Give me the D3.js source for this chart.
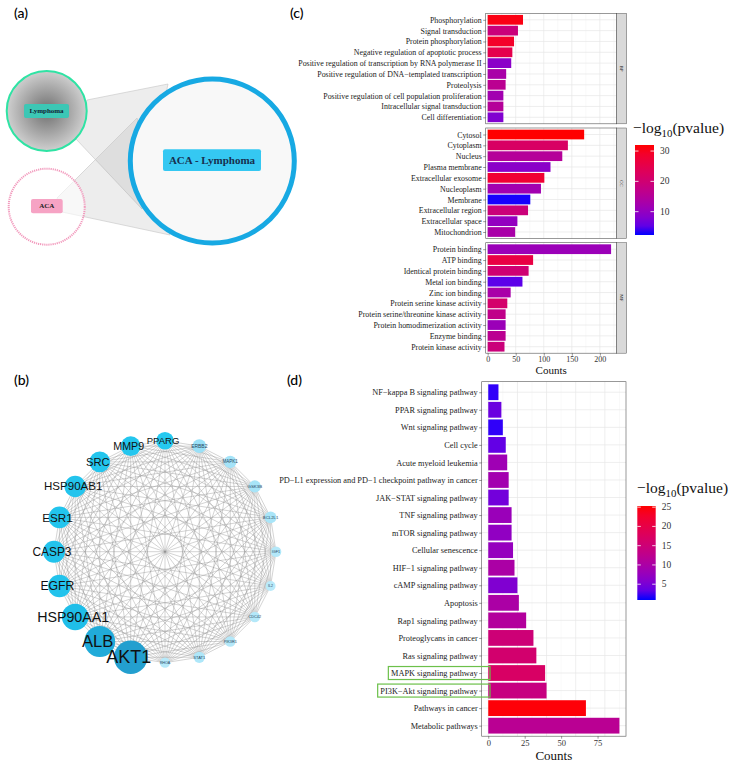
<!DOCTYPE html>
<html>
<head>
<meta charset="utf-8">
<script src="https://cdn.jsdelivr.net/npm/d3@7"></script>
<style>
body { margin: 0; background: #fff; }
text { font-family: "Liberation Serif", serif; }
</style>
</head>
<body>
<svg id="fig" width="731" height="762"></svg>
<script>
// ---- (a) sets ----
const SETS = ["Lymphoma", "ACA"];
const OVERLAP = "ACA - Lymphoma";

// ---- (b) PPI network, ring order clockwise from top ----
const GENES = ["PPARG", "ERBB2", "MAPK1", "GSK3B", "BCL2L1", "IGF1", "IL2", "CDC42", "PIK3R1", "STAT1",
    "RHOA", "AKT1", "ALB", "HSP90AA1", "EGFR", "CASP3", "ESR1", "HSP90AB1", "SRC", "MMP9"];
const GENE_SCORE = [50, 38, 34, 33, 32, 28, 26, 28, 28, 30,
    27, 100, 92, 78, 66, 64, 63, 62, 60, 57];

// ---- (c) GO enrichment ----
const BP_TERMS = ["Phosphorylation", "Signal transduction", "Protein phosphorylation",
    "Negative regulation of apoptotic process", "Positive regulation of transcription by RNA polymerase II",
    "Positive regulation of DNA\u2212templated transcription", "Proteolysis",
    "Positive regulation of cell population proliferation", "Intracellular signal transduction", "Cell differentiation"];
const BP_COUNT = [63, 54, 47, 44, 42, 33, 32, 28, 28, 28];
const BP_P = [31, 19, 29, 25, 9, 13, 16, 12, 15, 8];

const CC_TERMS = ["Cytosol", "Cytoplasm", "Nucleus", "Plasma membrane", "Extracellular exosome",
    "Nucleoplasm", "Membrane", "Extracellular region", "Extracellular space", "Mitochondrion"];
const CC_COUNT = [172, 143, 133, 112, 101, 95, 76, 72, 53, 49];
const CC_P = [32, 22, 15, 9, 28, 12, 2.5, 19, 10, 13];

const MF_TERMS = ["Protein binding", "ATP binding", "Identical protein binding", "Metal ion binding",
    "Zinc ion binding", "Protein serine kinase activity", "Protein serine/threonine kinase activity",
    "Protein homodimerization activity", "Enzyme binding", "Protein kinase activity"];
const MF_COUNT = [220, 81, 73, 62, 41, 35, 32, 32, 32, 30];
const MF_P = [11, 26, 20, 5, 13, 21, 17, 11, 16, 19];

const GO_TICKS = [0, 50, 100, 150, 200];
const GO_LEGEND_TICKS = [10, 20, 30];

// ---- (d) KEGG enrichment ----
const KEGG_TERMS = ["NF\u2212kappa B signaling pathway", "PPAR signaling pathway", "Wnt signaling pathway",
    "Cell cycle", "Acute myeloid leukemia", "PD\u2212L1 expression and PD\u22121 checkpoint pathway in cancer",
    "JAK\u2212STAT signaling pathway", "TNF signaling pathway", "mTOR signaling pathway", "Cellular senescence",
    "HIF\u22121 signaling pathway", "cAMP signaling pathway", "Apoptosis", "Rap1 signaling pathway",
    "Proteoglycans in cancer", "Ras signaling pathway", "MAPK signaling pathway",
    "PI3K\u2212Akt signaling pathway", "Pathways in cancer", "Metabolic pathways"];
const KEGG_COUNT = [7, 9, 10, 12, 13, 14, 14, 16, 16, 17, 18, 20, 21, 26, 31, 33, 39, 40, 67, 90];
const KEGG_P = [1.5, 4, 1.5, 3.5, 8.5, 9, 4.5, 8, 7, 7.5, 10, 5.5, 10, 11, 15, 16, 17, 14, 25, 12];
const KEGG_HIGHLIGHT = ["MAPK signaling pathway", "PI3K\u2212Akt signaling pathway"];

const KEGG_TICKS = [0, 25, 50, 75];
const KEGG_LEGEND_TICKS = [5, 10, 15, 20, 25];

const svg = d3.select("#fig");
const defs = svg.append("defs");

// panel tags
const tags = [["(a)", 14, 18], ["(b)", 14, 385], ["(c)", 290, 18], ["(d)", 287, 385]];
svg.selectAll(".tag").data(tags).join("text")
    .attr("x", d => d[1]).attr("y", d => d[2])
    .style("font-family", "Lato, sans-serif").style("font-size", "14px").style("font-weight", 500)
    .text(d => d[0]);

// =============== (a) ===============
function drawVenn(){
    const g = svg.append("g");
    const lym = { x: 46.7, y: 111, r: 40 };
    const aca = { x: 46.7, y: 206.7, r: 38 };
    const big = { x: 212.3, y: 161, r: 82 };

    const rg = defs.append("radialGradient").attr("id", "lymGrad");
    rg.append("stop").attr("offset", "0%").attr("stop-color", "#6f6f6f");
    rg.append("stop").attr("offset", "100%").attr("stop-color", "#cfcfcf");

    const bands = [
        [[87, 100], [168, 84], [142, 209], [76, 139]],
        [[57, 198], [137, 118], [170, 235], [62, 212]]
    ];
    g.selectAll(".band").data(bands).join("path")
        .attr("d", d => "M" + d.join("L") + "Z")
        .attr("fill", "#8c8c8c").attr("fill-opacity", 0.16)
        .attr("stroke", "#c4c4c4").attr("stroke-width", 0.6);

    g.append("circle").attr("cx", lym.x).attr("cy", lym.y).attr("r", lym.r)
        .attr("fill", "url(#lymGrad)").attr("stroke", "#2fe3a4").attr("stroke-width", 2);
    g.append("circle").attr("cx", aca.x).attr("cy", aca.y).attr("r", aca.r)
        .attr("fill", "#fff").attr("fill-opacity", 0.6)
        .attr("stroke", "#f29abd").attr("stroke-width", 2).attr("stroke-dasharray", "1.2,0.9");
    g.append("circle").attr("cx", big.x).attr("cy", big.y).attr("r", big.r)
        .attr("fill", "#f8f8f8").attr("stroke", "#17a9e3").attr("stroke-width", 5);

    const boxes = [
        { t: SETS[0], x: 24, y: 104, w: 45, h: 14, fill: "#3cc7b5", fs: 7, col: "#123" },
        { t: SETS[1], x: 31, y: 199, w: 31.7, h: 14.3, fill: "#f6a3c4", fs: 7, col: "#222" },
        { t: OVERLAP, x: 163, y: 149.3, w: 98, h: 21.7, fill: "#35c8f2", fs: 11, col: "#17304f" }
    ];
    const bg = g.selectAll(".box").data(boxes).join("g");
    bg.append("rect").attr("x", d => d.x).attr("y", d => d.y).attr("width", d => d.w).attr("height", d => d.h)
        .attr("rx", 2).attr("fill", d => d.fill);
    bg.append("text").attr("x", d => d.x + d.w / 2).attr("y", d => d.y + d.h / 2)
        .attr("text-anchor", "middle").attr("dominant-baseline", "central")
        .style("font-size", d => d.fs + "px").style("font-weight", "bold").attr("fill", d => d.col)
        .text(d => d.t);
}

// =============== (b) ===============
function drawNetwork(){
    const g = svg.append("g");
    const cx = 165, cy = 551.7, R = 111;
    const ang = d3.scaleLinear().domain([0, GENES.length]).range([0, 2 * Math.PI]);
    const nodes = GENES.map((name, i) => ({
        name, score: GENE_SCORE[i],
        x: cx + R * Math.sin(ang(i)), y: cy - R * Math.cos(ang(i))
    }));
    const links = [];
    nodes.forEach((a, i) => nodes.forEach((b, j) => { if (j > i) links.push([a, b]) }));

    const rScale = d3.scaleLinear().domain([26, 100]).range([5, 16.7]);
    const fScale = d3.scaleLinear().domain([26, 40, 50, 100]).range([3.6, 5.2, 9.5, 18]);
    const cScale = d3.scaleLinear().domain([26, 40, 50, 80, 100])
        .range(["#b9eafa", "#94def6", "#25c9f0", "#1fbde8", "#239fcf"]);

    g.selectAll(".link").data(links).join("line")
        .attr("x1", d => d[0].x).attr("y1", d => d[0].y)
        .attr("x2", d => d[1].x).attr("y2", d => d[1].y)
        .attr("stroke", "#8d8d8d").attr("stroke-width", 0.45).attr("stroke-opacity", 0.85);

    const sorted = nodes.slice().sort((a, b) => a.score - b.score);
    g.selectAll(".node").data(sorted).join("circle")
        .attr("cx", d => d.x).attr("cy", d => d.y).attr("r", d => rScale(d.score))
        .attr("fill", d => cScale(d.score));
    g.selectAll(".lbl").data(sorted).join("text")
        .attr("x", d => d.x - (d.score > 45 ? 2 : 0)).attr("y", d => d.y)
        .attr("text-anchor", "middle").attr("dominant-baseline", "central")
        .style("font-family", "'Liberation Sans', Arial, sans-serif")
        .style("font-size", d => fScale(d.score) + "px")
        .attr("fill", d => d.score > 45 ? "#111" : "#2a4660")
        .text(d => d.name);
}

// colour bar legend
function drawLegend(opts){
    const { id, color, ticks, x, y0, y1, w, tx, ty, fs } = opts;
    const [lo, hi] = color.domain();
    const lg = defs.append("linearGradient").attr("id", id).attr("x1", 0).attr("x2", 0).attr("y1", 1).attr("y2", 0);
    d3.range(0, 1.0001, 0.1).forEach(t => {
        lg.append("stop").attr("offset", t).attr("stop-color", color(lo + t * (hi - lo)));
    });
    const g = svg.append("g");
    const title = g.append("text").attr("x", tx).attr("y", ty).style("font-size", fs + "px").attr("fill", "#111");
    title.append("tspan").text("\u2212log");
    title.append("tspan").attr("dy", 4).style("font-size", (fs * 0.7) + "px").text("10");
    title.append("tspan").attr("dy", -4).text("(pvalue)");
    g.append("rect").attr("x", x).attr("y", y1).attr("width", w).attr("height", y0 - y1)
        .attr("fill", `url(#${id})`);
    const s = d3.scaleLinear().domain([lo, hi]).range([y0, y1]);
    g.selectAll(".tk").data(ticks).join("g").each(function(v){
        const t = d3.select(this);
        t.append("line").attr("x1", x).attr("x2", x + 3.5).attr("y1", s(v)).attr("y2", s(v)).attr("stroke", "#fff").attr("stroke-width", 0.8);
        t.append("line").attr("x1", x + w - 3.5).attr("x2", x + w).attr("y1", s(v)).attr("y2", s(v)).attr("stroke", "#fff").attr("stroke-width", 0.8);
        t.append("text").attr("x", x + w + 6).attr("y", s(v)).attr("dominant-baseline", "central")
            .style("font-size", "9.5px").attr("fill", "#333").text(v);
    });
}

// one bar panel (theme_bw style)
function drawBars(g, terms, counts, pv, x, top, bottom, color, labelSize){
    const y = d3.scalePoint().domain(terms).range([top, bottom]).padding(0.6);
    const step = y.step();
    const [x0, x1] = x.range();
    g.append("rect").attr("x", x0).attr("y", top).attr("width", x1 - x0).attr("height", bottom - top).attr("fill", "#fff");
    const ticks = x.ticks(5).filter(v => v >= 0);
    const minor = ticks.slice(0, -1).map((v, i) => (v + ticks[i + 1]) / 2);
    minor.push(ticks[ticks.length - 1] + (ticks[1] - ticks[0]) / 2);
    g.selectAll(".minor").data(minor.filter(v => x(v) < x1)).join("line")
        .attr("x1", d => x(d)).attr("x2", d => x(d)).attr("y1", top).attr("y2", bottom)
        .attr("stroke", "#f3f3f3").attr("stroke-width", 0.5);
    g.selectAll(".major").data(ticks).join("line")
        .attr("x1", d => x(d)).attr("x2", d => x(d)).attr("y1", top).attr("y2", bottom)
        .attr("stroke", "#e6e6e6").attr("stroke-width", 0.7);
    g.selectAll(".hgrid").data(terms).join("line")
        .attr("x1", x0).attr("x2", x1).attr("y1", d => y(d)).attr("y2", d => y(d))
        .attr("stroke", "#e6e6e6").attr("stroke-width", 0.7);
    g.selectAll(".bar").data(terms).join("rect")
        .attr("x", x(0)).attr("y", d => y(d) - step * 0.45)
        .attr("width", (d, i) => x(counts[i]) - x(0)).attr("height", step * 0.9)
        .attr("fill", (d, i) => color(pv[i]));
    g.append("rect").attr("x", x0).attr("y", top).attr("width", x1 - x0).attr("height", bottom - top)
        .attr("fill", "none").attr("stroke", "#555").attr("stroke-width", 0.6);
    const ax = g.append("g").attr("transform", `translate(${x0},0)`)
        .call(d3.axisLeft(y).tickSize(2.5).tickPadding(1.5));
    ax.select(".domain").remove();
    ax.selectAll(".tick line").attr("stroke", "#333").attr("stroke-width", 0.5);
    ax.selectAll(".tick text").style("font-family", "'Liberation Serif', serif")
        .style("font-size", labelSize + "px").attr("fill", "#1a1a1a");
    return y;
}

// =============== (c) ===============
function drawGO(){
    const color = d3.scaleLinear().domain([2.3, 32]).range(["blue", "red"]).interpolate(d3.interpolateLab);
    const x = d3.scaleLinear().domain([-3.5, 230]).range([485.7, 616.7]);
    const facets = [
        { key: "BP", terms: BP_TERMS, count: BP_COUNT, p: BP_P, top: 13.3 },
        { key: "CC", terms: CC_TERMS, count: CC_COUNT, p: CC_P, top: 128 },
        { key: "MF", terms: MF_TERMS, count: MF_COUNT, p: MF_P, top: 242.7 }
    ];
    const H = 110.5;
    facets.forEach(f => {
        const g = svg.append("g");
        drawBars(g, f.terms, f.count, f.p, x, f.top, f.top + H, color, 7.9);
        g.append("rect").attr("x", 616.7).attr("y", f.top).attr("width", 10).attr("height", H)
            .attr("fill", "#d9d9d9").attr("stroke", "#555").attr("stroke-width", 0.5);
        g.append("text").attr("transform", `translate(${621.7},${f.top + H / 2}) rotate(90)`)
            .attr("text-anchor", "middle").attr("dominant-baseline", "central")
            .style("font-size", "5px").attr("fill", "#222").text(f.key);
    });
    const bottom = 242.7 + H;
    const ax = svg.append("g").attr("transform", `translate(0,${bottom})`)
        .call(d3.axisBottom(x).tickValues(GO_TICKS).tickSize(2.5).tickPadding(1));
    ax.select(".domain").remove();
    ax.selectAll(".tick line").attr("stroke", "#333").attr("stroke-width", 0.5);
    ax.selectAll(".tick text").style("font-family", "'Liberation Serif', serif").style("font-size", "8px").attr("fill", "#333");
    svg.append("text").attr("x", (485.7 + 616.7) / 2).attr("y", 373.5).attr("text-anchor", "middle")
        .style("font-size", "11px").attr("fill", "#111").text("Counts");

    drawLegend({ id: "goGrad", color, ticks: GO_LEGEND_TICKS, x: 635, y0: 235, y1: 145, w: 19,
        tx: 633, ty: 133, fs: 15.5 });
}

// =============== (d) ===============
function drawKEGG(){
    const color = d3.scaleLinear().domain([0.9, 25.3]).range(["blue", "red"]).interpolate(d3.interpolateLab);
    const x = d3.scaleLinear().domain([-4.5, 94.5]).range([481.7, 626]);
    const top = 381.7, bottom = 736.2;
    const g = svg.append("g");
    const y = drawBars(g, KEGG_TERMS, KEGG_COUNT, KEGG_P, x, top, bottom, color, 8.3);

    // green highlight boxes around two pathways
    g.selectAll(".tick text").each(function(d){
        if (!KEGG_HIGHLIGHT.includes(d)) return;
        const w = this.getComputedTextLength();
        g.append("rect").attr("x", 478 - w - 3).attr("y", y(d) - 6.5)
            .attr("width", w + 3 + 12).attr("height", 13)
            .attr("fill", "none").attr("stroke", "#6cc04a").attr("stroke-width", 1.2);
    });

    const ax = svg.append("g").attr("transform", `translate(0,${bottom})`)
        .call(d3.axisBottom(x).tickValues(KEGG_TICKS).tickSize(2.5).tickPadding(1));
    ax.select(".domain").remove();
    ax.selectAll(".tick line").attr("stroke", "#333").attr("stroke-width", 0.5);
    ax.selectAll(".tick text").style("font-family", "'Liberation Serif', serif").style("font-size", "8.5px").attr("fill", "#333");
    svg.append("text").attr("x", (481.7 + 626) / 2).attr("y", 759.5).attr("text-anchor", "middle")
        .style("font-size", "13px").attr("fill", "#111").text("Counts");

    drawLegend({ id: "keggGrad", color, ticks: KEGG_LEGEND_TICKS, x: 637.3, y0: 600, y1: 506, w: 18.4,
        tx: 637, ty: 493, fs: 15.5 });
}

drawVenn();
drawNetwork();
drawGO();
drawKEGG();
</script>
</body>
</html>
